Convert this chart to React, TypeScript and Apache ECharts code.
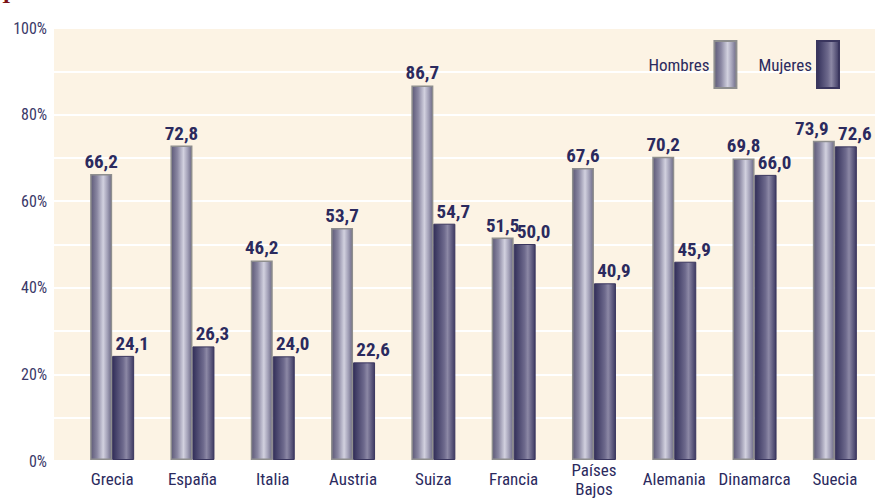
import React, { useEffect, useRef } from "react";
import * as echarts from "echarts";

const categories = ["Grecia", "España", "Italia", "Austria", "Suiza", "Francia", "Países\nBajos", "Alemania", "Dinamarca", "Suecia"];
const hombres = [66.2, 72.8, 46.2, 53.7, 86.7, 51.5, 67.6, 70.2, 69.8, 73.9];
const mujeres = [24.1, 26.3, 24.0, 22.6, 54.7, 50.0, 40.9, 45.9, 66.0, 72.6];
const seriesNames = ["Hombres", "Mujeres"];

const FONT = "'Roboto Condensed', 'Liberation Sans Narrow', Roboto, sans-serif";
const TEXT = "#2b2a5e";

export default function App() {
  const ref = useRef<HTMLDivElement>(null);
  useEffect(() => {
    if (!ref.current) return;
    const chart = echarts.init(ref.current, null, { renderer: "svg" });
    const hGrad = new echarts.graphic.LinearGradient(0, 0, 1, 0, [
      { offset: 0, color: "#5e5a78" },
      { offset: 0.3, color: "#8a87a2" },
      { offset: 0.6, color: "#d2d1df" },
      { offset: 0.8, color: "#a3a1b8" },
      { offset: 1, color: "#6c6986" },
    ]);
    const mGrad = new echarts.graphic.LinearGradient(0, 0, 1, 0, [
      { offset: 0, color: "#33305a" },
      { offset: 0.5, color: "#6e6a8d" },
      { offset: 0.65, color: "#8c88a5" },
      { offset: 1, color: "#3e3a63" },
    ]);
    const fmt = (p: any) => Number(p.value).toFixed(1).replace(".", ",");
    const labelStyle = {
      show: true,
      position: "top" as const,
      distance: 3,
      fontFamily: FONT,
      fontWeight: "bold" as const,
      fontSize: 19,
      color: TEXT,
      formatter: fmt,
    };
    const hData = hombres.map((v, i) =>
      i === categories.length - 1 ? { value: v, label: { offset: [-12, 0] } } : v
    );
    chart.setOption({
      animation: false,
      backgroundColor: "#ffffff",
      graphic: [
        {
          type: "text",
          left: 2,
          top: -16,
          style: { text: "I", fontFamily: "'Liberation Serif', serif", fontWeight: "bold", fontSize: 22, fill: "#7a1216" },
        },
      ],
      legend: {
        right: 30,
        top: 35,
        itemWidth: 22,
        itemHeight: 47,
        itemGap: 21,
        align: "right",
        icon: "rect",
        data: seriesNames,
        textStyle: { fontFamily: FONT, fontSize: 17, color: TEXT, padding: [32, 0, 0, 0] },
      },
      grid: [
        { left: 54, right: 0, top: 28, height: 433, show: true, backgroundColor: "#fcf3e4", borderWidth: 0 },
        { left: 72, width: 811, top: 28, height: 433 },
      ],
      xAxis: [
        { type: "category", gridIndex: 0, data: categories, show: false },
        {
          type: "category",
          gridIndex: 1,
          data: categories,
          axisLine: { show: false },
          axisTick: { show: false },
          axisLabel: {
            fontFamily: FONT,
            fontSize: 17,
            color: TEXT,
            margin: 19,
            verticalAlign: "middle",
            lineHeight: 19,
            interval: 0,
          },
        },
      ],
      yAxis: [
        {
          type: "value",
          gridIndex: 0,
          min: 0,
          max: 100,
          interval: 10,
          axisLine: { show: false },
          axisTick: { show: false },
          splitLine: { show: true, lineStyle: { color: "#ffffff", width: 2 } },
          axisLabel: {
            fontFamily: FONT,
            fontSize: 16,
            color: "#3a3868",
            margin: 7,
            padding: [0, 0, 8, 0],
            formatter: (v: number) => (v % 20 === 0 ? v + "%" : ""),
          },
        },
        { type: "value", gridIndex: 1, min: 0, max: 100, show: false, splitLine: { show: false } },
      ],
      series: [
        {
          name: seriesNames[0],
          type: "bar",
          xAxisIndex: 1,
          yAxisIndex: 1,
          data: hData,
          barWidth: 22,
          barGap: "0%",
          itemStyle: { color: hGrad, borderColor: "#8e8e8e", borderWidth: 1.5 },
          label: labelStyle,
        },
        {
          name: seriesNames[1],
          type: "bar",
          xAxisIndex: 1,
          yAxisIndex: 1,
          data: mujeres,
          barWidth: 22,
          barGap: "0%",
          itemStyle: { color: mGrad, borderColor: "#3a365e", borderWidth: 1 },
          label: { ...labelStyle, offset: [9, 0] },
        },
      ],
    });
    return () => chart.dispose();
  }, []);
  return (
    <div
      ref={ref}
      style={{ position: "absolute", left: 0, top: 0, width: 875, height: 498 }}
    />
  );
}
